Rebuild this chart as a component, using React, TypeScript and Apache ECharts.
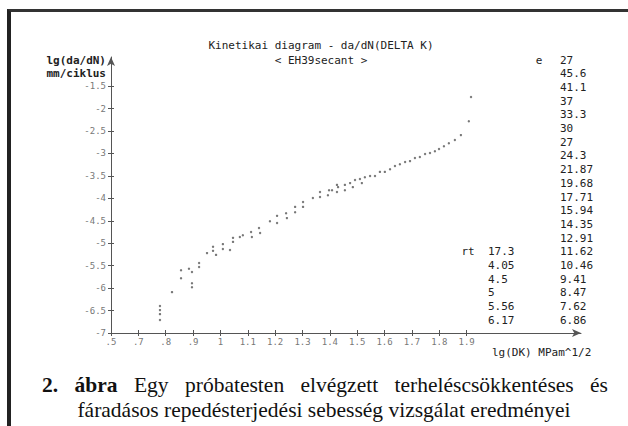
import React, { useEffect, useRef } from 'react';
import * as echarts from 'echarts';

// lg(DK) values of the measured points
const xValues = [
  0.779, 0.779, 0.779, 0.779, 0.823, 0.856, 0.856, 0.885, 0.896, 0.896, 0.896,
  0.922, 0.922, 0.951, 0.973, 0.973, 0.984, 1.009, 1.009, 1.035, 1.046, 1.046,
  1.071, 1.082, 1.112, 1.115, 1.141, 1.145, 1.181, 1.207, 1.207, 1.24, 1.243,
  1.273, 1.273, 1.302, 1.302, 1.338, 1.364, 1.364, 1.393, 1.397, 1.408, 1.426,
  1.426, 1.43, 1.455, 1.455, 1.474, 1.484, 1.492, 1.51, 1.517, 1.528, 1.547,
  1.565, 1.583, 1.601, 1.62, 1.638, 1.656, 1.675, 1.693, 1.711, 1.729, 1.748,
  1.766, 1.784, 1.799, 1.817, 1.835, 1.857, 1.879, 1.908, 1.916,
];
// lg(da/dN) values of the measured points
const yValues = [
  -6.4, -6.49, -6.58, -6.71, -6.09, -5.6, -5.78, -5.57, -5.64, -5.89, -5.98,
  -5.44, -5.53, -5.22, -5.08, -5.17, -5.26, -5.02, -5.13, -5.15, -4.88, -4.97,
  -4.86, -4.82, -4.75, -4.86, -4.66, -4.77, -4.51, -4.39, -4.55, -4.33, -4.44,
  -4.19, -4.31, -4.08, -4.19, -3.99, -3.86, -3.97, -3.93, -3.82, -3.82, -3.7,
  -3.86, -3.75, -3.7, -3.82, -3.66, -3.75, -3.59, -3.57, -3.66, -3.53, -3.5,
  -3.5, -3.41, -3.41, -3.35, -3.28, -3.24, -3.19, -3.17, -3.1, -3.08, -3.01,
  -2.99, -2.95, -2.9, -2.84, -2.77, -2.7, -2.59, -2.28, -1.74,
];

const xTickValues = [0.6, 0.7, 0.8, 0.9, 1.0, 1.1, 1.2, 1.3, 1.4, 1.5, 1.6, 1.7, 1.8, 1.9];
const xTickLabels = ['.5', '.7', '.8', '.9', '1', '1.1', '1.2', '1.3', '1.4', '1.5', '1.6', '1.7', '1.8', '1.9'];
const yTickValues = [-7, -6.5, -6, -5.5, -5, -4.5, -4, -3.5, -3, -2.5, -2, -1.5];
const yTickLabels = ['-7', '-6.5', '-6', '-5.5', '-5', '-4.5', '-4', '-3.5', '-3', '-2.5', '-2', '-1.5'];

const titleLines = ['Kinetikai diagram - da/dN(DELTA K)', '< EH39secant >'];
const yNameLines = ['lg(da/dN)', 'mm/ciklus'];
const xName = 'lg(DK) MPam^1/2';
const eLabel = 'e';
const eValues = ['27', '45.6', '41.1', '37', '33.3', '30', '27', '24.3', '21.87', '19.68', '17.71',
  '15.94', '14.35', '12.91', '11.62', '10.46', '9.41', '8.47', '7.62', '6.86'];
const rtLabel = 'rt';
const rtValues = ['17.3', '4.05', '4.5', '5', '5.56', '6.17'];

const MONO = '"DejaVu Sans Mono", "Liberation Mono", monospace';

export default function App() {
  const ref = useRef<HTMLDivElement>(null);
  useEffect(() => {
    if (!ref.current) return;
    const chart = echarts.init(ref.current, null, { renderer: 'svg' });
    const rowH = 13.7;
    const row0 = 60;
    const graphics: any[] = [];
    titleLines.forEach((t, i) => {
      graphics.push({ type: 'text', x: 321, y: 45 + i * 15, style: { text: t, font: `11px ${MONO}`, fill: '#222', textAlign: 'center', textVerticalAlign: 'middle' } });
    });
    yNameLines.forEach((t, i) => {
      graphics.push({ type: 'text', x: 106, y: 60 + i * 13, style: { text: t, font: `bold 11px ${MONO}`, fill: '#222', textAlign: 'right', textVerticalAlign: 'middle' } });
    });
    graphics.push({ type: 'text', x: 492, y: 352, style: { text: xName, font: `11px ${MONO}`, fill: '#222', textAlign: 'left', textVerticalAlign: 'middle' } });
    graphics.push({ type: 'text', x: 539, y: row0, style: { text: eLabel, font: `11px ${MONO}`, fill: '#222', textAlign: 'center', textVerticalAlign: 'middle' } });
    eValues.forEach((t, i) => {
      graphics.push({ type: 'text', x: 560, y: row0 + i * rowH, style: { text: t, font: `11px ${MONO}`, fill: '#222', textAlign: 'left', textVerticalAlign: 'middle' } });
    });
    const rtStart = 14;
    graphics.push({ type: 'text', x: 468, y: row0 + rtStart * rowH, style: { text: rtLabel, font: `11px ${MONO}`, fill: '#222', textAlign: 'center', textVerticalAlign: 'middle' } });
    rtValues.forEach((t, i) => {
      graphics.push({ type: 'text', x: 488, y: row0 + (rtStart + i) * rowH, style: { text: t, font: `11px ${MONO}`, fill: '#222', textAlign: 'left', textVerticalAlign: 'middle' } });
    });

    const axisLineStyle = { color: '#555', width: 1 };
    chart.setOption({
      animation: false,
      backgroundColor: 'transparent',
      grid: { left: 111, right: 47, top: 57, bottom: 93 },
      xAxis: [
        {
          type: 'value', min: 0.6, max: 2.318,
          axisLine: { show: true, onZero: false, symbol: ['none', 'arrow'], symbolSize: [6, 9], lineStyle: axisLineStyle },
          axisTick: { show: true, length: 3, customValues: xTickValues, lineStyle: axisLineStyle },
          axisLabel: {
            customValues: xTickValues, margin: 4, fontSize: 9, fontFamily: MONO, color: '#777',
            formatter: (v: number) => {
              const i = xTickValues.findIndex((t) => Math.abs(t - v) < 1e-6);
              return i >= 0 ? xTickLabels[i] : '';
            },
          },
          splitLine: { show: false },
        },
        {
          type: 'value', min: 0.6, max: 2.318, position: 'bottom',
          axisLine: { show: false, onZero: false },
          axisTick: { show: true, inside: true, length: 3, customValues: xTickValues, lineStyle: axisLineStyle },
          axisLabel: { show: false },
          splitLine: { show: false },
        },
      ],
      yAxis: [
        {
          type: 'value', min: -7, max: -0.85,
          axisLine: { show: true, onZero: false, symbol: ['none', 'arrow'], symbolSize: [6, 9], lineStyle: axisLineStyle },
          axisTick: { show: true, length: 3, customValues: yTickValues, lineStyle: axisLineStyle },
          axisLabel: {
            customValues: yTickValues, margin: 5, fontSize: 9, fontFamily: MONO, color: '#777',
            formatter: (v: number) => {
              const i = yTickValues.findIndex((t) => Math.abs(t - v) < 1e-6);
              return i >= 0 ? yTickLabels[i] : '';
            },
          },
          splitLine: { show: false },
        },
        {
          type: 'value', min: -7, max: -0.85, position: 'left',
          axisLine: { show: false, onZero: false },
          axisTick: { show: true, inside: true, length: 3, customValues: yTickValues, lineStyle: axisLineStyle },
          axisLabel: { show: false },
          splitLine: { show: false },
        },
      ],
      series: [
        {
          type: 'scatter',
          xAxisIndex: 0,
          yAxisIndex: 0,
          symbol: 'circle',
          symbolSize: 2.4,
          itemStyle: { color: '#555' },
          data: xValues.map((x, i) => [x, yValues[i]]),
        },
      ],
      graphic: graphics,
    });
    return () => chart.dispose();
  }, []);

  return (
    <div style={{ position: 'fixed', left: 0, top: 0, width: 628, height: 426, background: '#fff', overflow: 'hidden' }}>
      <div style={{ position: 'absolute', left: 7, top: 9, width: 621, height: 417, borderLeft: '4px solid #222', borderTop: '3px solid #333', boxSizing: 'border-box' }} />
      <div ref={ref} style={{ position: 'absolute', left: 0, top: 0, width: 628, height: 426 }} />
      <div style={{ position: 'absolute', left: 42, top: 372, width: 566, fontFamily: '"Liberation Serif", "Times New Roman", serif', fontSize: 21.5, color: '#111', textAlign: 'justify', textAlignLast: 'justify', whiteSpace: 'nowrap' as any, lineHeight: '26px' }}>
        <b>2. ábra</b> Egy próbatesten elvégzett terheléscsökkentéses és
      </div>
      <div style={{ position: 'absolute', left: 0, top: 397, width: 648, fontFamily: '"Liberation Serif", "Times New Roman", serif', fontSize: 21.5, color: '#111', textAlign: 'center', lineHeight: '26px' }}>
        fáradásos repedésterjedési sebesség vizsgálat eredményei
      </div>
    </div>
  );
}
